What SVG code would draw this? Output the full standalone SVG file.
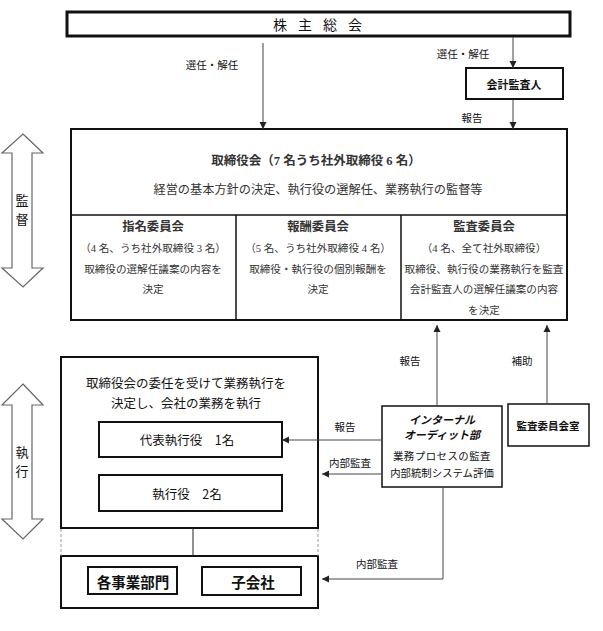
<svg xmlns="http://www.w3.org/2000/svg" width="603" height="631" viewBox="0 0 603 631">
<defs>
<style>
text{font-family:"Noto Sans CJK JP","Noto Sans",sans-serif;fill:#111;dominant-baseline:central;text-anchor:middle}
.sr{font-family:"Liberation Serif","Noto Sans CJK JP",serif;fill:#333}
.b{font-weight:bold}
.box{fill:#fff;stroke:#111}
.ln{stroke:#444;stroke-width:1;fill:none}
.dbl{fill:#fff;stroke:#666;stroke-width:1.2}
</style>
<marker id="ah" viewBox="0 0 10 10" refX="10" refY="5" markerWidth="7" markerHeight="8" markerUnits="userSpaceOnUse" orient="auto">
<path d="M0,0 L10,5 L0,10 Z" fill="#222"/>
</marker>
</defs>
<rect width="603" height="631" fill="#fff"/>

<g id="kansoku">
<polygon class="dbl" points="23,134 43,153 32,153 32,268 43,268 23,287 2,268 12,268 12,153 2,153"/>
<text x="22" y="199" font-size="13">監</text>
<text x="22" y="218" font-size="13">督</text>
</g>
<g id="shikko">
<polygon class="dbl" points="23,384 43,405 32,405 32,519 43,519 23,539 2,519 12,519 12,405 2,405"/>
<text x="22" y="451" font-size="13">執</text>
<text x="22" y="470" font-size="13">行</text>
</g>

<g id="kabunushi">
<rect class="box" x="67" y="12" width="503" height="24" stroke-width="3"/>
<text x="280 305 330 355" y="24" font-size="14">株主総会</text>
</g>

<g id="kaikei">
<rect class="box" x="466" y="68" width="97" height="31" stroke-width="2"/>
<text class="b" x="514" y="84" font-size="11">会計監査人</text>
</g>

<g id="torishimariyakukai">
<rect class="box" x="71" y="129" width="496" height="191" stroke-width="2"/>
<line x1="71" y1="215" x2="567" y2="215" stroke="#111" stroke-width="1.5"/>
<line x1="236" y1="215" x2="236" y2="320" stroke="#111" stroke-width="1.5"/>
<line x1="401" y1="215" x2="401" y2="320" stroke="#111" stroke-width="1.5"/>
<text class="sr b" x="316" y="161" font-size="12.5" fill="#111">取締役会（7 名うち社外取締役 6 名）</text>
<text class="sr" x="318" y="190" font-size="12.2">経営の基本方針の決定、執行役の選解任、業務執行の監督等</text>
</g>

<g id="shimei">
<text class="sr b" x="153" y="227" font-size="12.3">指名委員会</text>
<text class="sr" x="153" y="248" font-size="10.6">（4 名、うち社外取締役 3 名）</text>
<text class="sr" x="153" y="269" font-size="10.6">取締役の選解任議案の内容を</text>
<text class="sr" x="153" y="289" font-size="10.6">決定</text>
</g>
<g id="hoshu">
<text class="sr b" x="318" y="227" font-size="12.3">報酬委員会</text>
<text class="sr" x="318" y="248" font-size="10.6">（5 名、うち社外取締役 4 名）</text>
<text class="sr" x="318" y="269" font-size="10.6">取締役・執行役の個別報酬を</text>
<text class="sr" x="318" y="289" font-size="10.6">決定</text>
</g>
<g id="kansa">
<text class="sr b" x="484" y="227" font-size="12.3">監査委員会</text>
<text class="sr" x="484" y="248" font-size="10.6">（4 名、全て社外取締役）</text>
<text class="sr" x="484" y="269" font-size="10.6">取締役、執行役の業務執行を監査</text>
<text class="sr" x="484" y="289" font-size="10.6">会計監査人の選解任議案の内容</text>
<text class="sr" x="484" y="310" font-size="10.6">を決定</text>
</g>

<g id="shikkoyaku">
<rect class="box" x="61" y="357" width="257" height="171" stroke-width="2"/>
<text x="186" y="382" font-size="12.5">取締役会の委任を受けて業務執行を</text>
<text x="186" y="402" font-size="12.5">決定し、会社の業務を執行</text>
</g>
<g id="daihyo">
<rect class="box" x="99" y="422" width="183" height="35" stroke-width="2"/>
<text x="187" y="439" font-size="12.5">代表執行役　1名</text>
</g>
<g id="shikkoyaku2">
<rect class="box" x="99" y="475" width="183" height="36" stroke-width="2"/>
<text x="187" y="493" font-size="12.5">執行役　2名</text>
</g>

<g id="bumon-group">
<rect class="box" x="61" y="556" width="257" height="52" stroke-width="2"/>
</g>
<g id="jigyobumon">
<rect class="box" x="88" y="567" width="89" height="27" stroke-width="2"/>
<text class="b" x="133" y="581" font-size="14.5">各事業部門</text>
</g>
<g id="kogaisha">
<rect class="box" x="202" y="567" width="99" height="28" stroke-width="2"/>
<text class="b" x="253" y="581" font-size="14.5">子会社</text>
</g>

<g id="internal-audit">
<rect class="box" x="382" y="406" width="120" height="81" stroke-width="1.5"/>
<text class="b" x="442" y="419" font-size="11" font-style="italic">インターナル</text>
<text class="b" x="442" y="434" font-size="11" font-style="italic">オーディット部</text>
<text x="442" y="455" font-size="10.4" letter-spacing="0.5">業務プロセスの監査</text>
<text x="442" y="472" font-size="10.4">内部統制システム評価</text>
</g>

<g id="kansa-shitsu">
<rect class="box" x="508" y="404" width="81" height="42" stroke-width="1.5"/>
<text class="b" x="548" y="425" font-size="10.5">監査委員会室</text>
</g>

<g id="connectors">
<line class="ln" x1="263" y1="43" x2="263" y2="129" marker-end="url(#ah)"/>
<line class="ln" x1="513" y1="37" x2="513" y2="68" marker-end="url(#ah)"/>
<line class="ln" x1="513" y1="100" x2="513" y2="129" marker-end="url(#ah)" stroke="#777"/>
<line class="ln" x1="437" y1="406" x2="437" y2="325" marker-end="url(#ah)" stroke="#888"/>
<line class="ln" x1="547" y1="404" x2="547" y2="325" marker-end="url(#ah)" stroke="#888"/>
<line class="ln" x1="382" y1="440" x2="282" y2="440" marker-end="url(#ah)"/>
<line class="ln" x1="382" y1="474" x2="322" y2="474" marker-end="url(#ah)"/>
<polyline class="ln" points="443,487 443,579 322,579" marker-end="url(#ah)" stroke="#777"/>
<line x1="193" y1="528" x2="193" y2="556" stroke="#222" stroke-width="1"/>
<line x1="61" y1="529" x2="61" y2="556" stroke="#999" stroke-width="1" stroke-dasharray="3,2"/>
<line x1="318" y1="529" x2="318" y2="556" stroke="#999" stroke-width="1" stroke-dasharray="3,2"/>
<text x="212" y="64" font-size="10.5">選任・解任</text>
<text x="463" y="53" font-size="10.5">選任・解任</text>
<text x="472" y="117" font-size="10.5">報告</text>
<text x="410" y="360" font-size="10.5">報告</text>
<text x="522" y="360" font-size="10.5">補助</text>
<text x="345" y="426" font-size="10.5">報告</text>
<text x="350" y="462" font-size="10.5">内部監査</text>
<text x="377" y="563" font-size="10.5">内部監査</text>
</g>
</svg>
